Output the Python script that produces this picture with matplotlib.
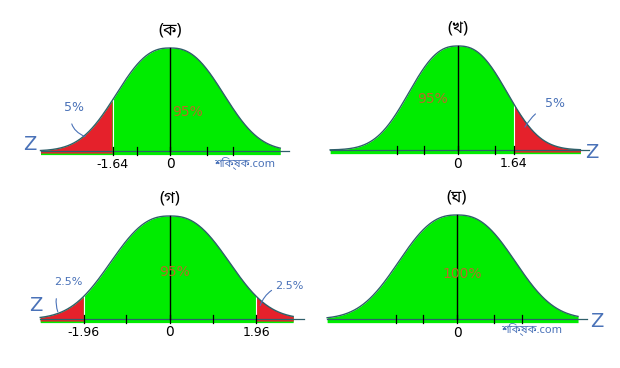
import numpy as np
import matplotlib
matplotlib.use("Agg")
import matplotlib.pyplot as plt

titres = ["(ক)", "(খ)", "(গ)", "(ঘ)"]
pourcentages = ["95%", "95%", "95%", "100%"]
valeurs_critiques = [[-1.64], [1.64], [-1.96, 1.96], []]
queues = ["gauche", "droite", "deux", "aucune"]
graduations = [[-1.64, -0.95, 0, 1.05, 1.8],
               [-1.8, -1.0, 0, 1.1, 1.64],
               [-1.96, -1.0, 0, 0.98, 1.96],
               [-1.8, -1.0, 0, 1.1, 1.9]]
etiquettes_grad = [{-1.64: "-1.64", 0: "0"},
                   {0: "0", 1.64: "1.64"},
                   {-1.96: "-1.96", 0: "0", 1.96: "1.96"},
                   {0: "0"}]
filigrane = "শিক্ষক.com"

# mise en page (pixels) : centre x, px par unité, ligne de base, hauteur du pic,
# largeur de la cloche (en unités z), bornes de la courbe
panneaux = [dict(x0=170, s=35, base=151, h=103, a=1.89, zl=-3.7, zr=3.15),
            dict(x0=458, s=34, base=150, h=104, a=1.78, zl=-3.76, zr=3.6),
            dict(x0=170, s=44, base=319, h=103, a=1.66, zl=-2.95, zr=2.8),
            dict(x0=457, s=34, base=319, h=104, a=2.11, zl=-3.82, zr=3.56)]
P = 2.5  # forme de la cloche dessinée à la main (plus plate qu'une gaussienne)

VERT = "#00ec00"
ROUGE = "#e5212b"
BLEU = "#4a72b8"
ORANGE = "#b86a28"
CONTOUR = "#2f5f6a"
POLICE_BN = ["Noto Sans Bengali", "Noto Serif Bengali", "Lohit Bengali", "FreeSans", "DejaVu Sans"]


def cloche(z, a):
    return np.exp(-np.abs(z / a) ** P)


W, H = 620, 368
fig = plt.figure(figsize=(6.2, 3.68), dpi=100)
fig.patch.set_facecolor("white")

XM, YB, YT = 4.6, -0.35, 1.45
for i, p in enumerate(panneaux):
    gauche = (p["x0"] - XM * p["s"]) / W
    largeur = 2 * XM * p["s"] / W
    bas = (H - (p["base"] - YB * p["h"])) / H
    hauteur = (YT - YB) * p["h"] / H
    ax = fig.add_axes([gauche, bas, largeur, hauteur])
    ax.set_xlim(-XM, XM)
    ax.set_ylim(YB, YT)
    ax.axis("off")

    z = np.linspace(p["zl"], p["zr"], 400)
    courbe = cloche(z, p["a"])

    # zone verte puis queues rouges
    ax.fill_between(z, -0.035, courbe, color=VERT, lw=0)
    crit = valeurs_critiques[i]
    if queues[i] == "gauche":
        m = z <= crit[0]
        ax.fill_between(z[m], -0.02, courbe[m], color=ROUGE, lw=0)
    elif queues[i] == "droite":
        m = z >= crit[0]
        ax.fill_between(z[m], -0.02, courbe[m], color=ROUGE, lw=0)
    elif queues[i] == "deux":
        m = z <= crit[0]
        ax.fill_between(z[m], -0.02, courbe[m], color=ROUGE, lw=0)
        m = z >= crit[1]
        ax.fill_between(z[m], -0.02, courbe[m], color=ROUGE, lw=0)
    for c in crit:
        ax.plot([c, c], [0, cloche(c, p["a"])], color="white", lw=0.8)

    ax.plot(z, courbe, color=CONTOUR, lw=1.0)
    ax.plot([p["zl"], p["zr"] + 0.25], [0, 0], color=CONTOUR, lw=0.9)
    ax.plot([0, 0], [0, 1], color="black", lw=1.0)

    # graduations
    for g in graduations[i]:
        ax.plot([g, g], [-0.04, 0.04], color="black", lw=0.9)
    for g, t in etiquettes_grad[i].items():
        ax.text(g, -0.13, t, ha="center", va="center", fontsize=9 if t != "0" else 10)

    ax.text(0, 1.17, titres[i], ha="center", va="center", fontsize=12, family=POLICE_BN)

    # étiquettes des pourcentages
    pos_pct = [(0.49, 0.38), (-0.74, 0.49), (0.11, 0.46), (0.15, 0.43)][i]
    ax.text(pos_pct[0], pos_pct[1], pourcentages[i], ha="center", va="center",
            color=ORANGE, fontsize=10)

    # lettre Z
    pos_z = [(-4.0, 0.06), (3.95, -0.02), (-3.05, 0.13), (4.1, -0.02)][i]
    ax.text(pos_z[0], pos_z[1], "Z", ha="center", va="center", color=BLEU, fontsize=14)

# annotations des queues
axes = fig.axes
axes[0].annotate("5%", xy=(-2.43, 0.14), xytext=(-2.75, 0.42), color=BLEU, fontsize=9,
                 ha="center", va="center",
                 arrowprops=dict(arrowstyle="-", color=BLEU, lw=0.8,
                                 connectionstyle="arc3,rad=0.5", shrinkA=5, shrinkB=0))
axes[1].annotate("5%", xy=(1.97, 0.22), xytext=(2.85, 0.45), color=BLEU, fontsize=9,
                 ha="center", va="center",
                 arrowprops=dict(arrowstyle="-", color=BLEU, lw=0.8,
                                 connectionstyle="arc3,rad=0.2", shrinkA=6, shrinkB=0))
axes[2].annotate("2.5%", xy=(-2.55, 0.07), xytext=(-2.3, 0.36), color=BLEU, fontsize=8,
                 ha="center", va="center",
                 arrowprops=dict(arrowstyle="-", color=BLEU, lw=0.8,
                                 connectionstyle="arc3,rad=0.4", shrinkA=7, shrinkB=0))
axes[2].annotate("2.5%", xy=(2.05, 0.13), xytext=(2.72, 0.32), color=BLEU, fontsize=8,
                 ha="center", va="center",
                 arrowprops=dict(arrowstyle="-", color=BLEU, lw=0.8, relpos=(0, 0.3),
                                 connectionstyle="arc3,rad=0.2", shrinkA=1, shrinkB=0))

# filigranes
axes[0].text(2.14, -0.12, filigrane, ha="center", va="center", color=BLEU, fontsize=8, family=POLICE_BN)
axes[3].text(2.2, -0.1, filigrane, ha="center", va="center", color=BLEU, fontsize=8, family=POLICE_BN)

fig.savefig("out.png", dpi=100)
